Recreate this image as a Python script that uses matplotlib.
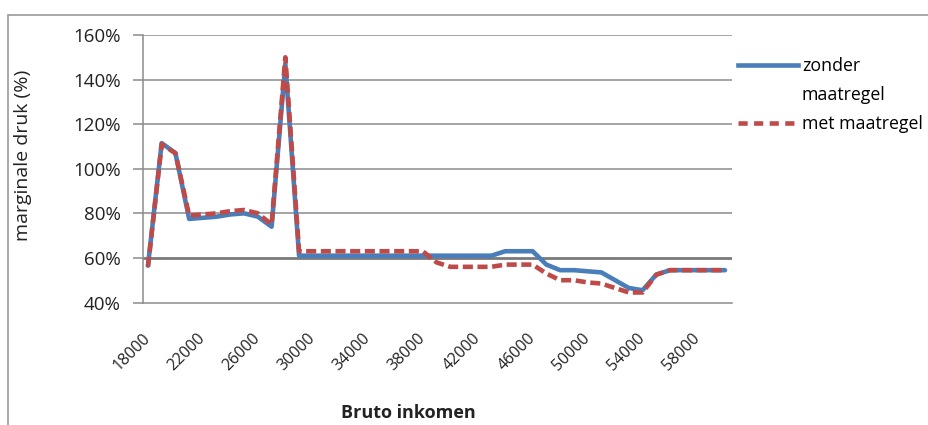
import numpy as np
import matplotlib
matplotlib.use("Agg")
import matplotlib.pyplot as plt
from matplotlib.lines import Line2D
from matplotlib.patches import Rectangle
from matplotlib.ticker import FuncFormatter

plt.rcParams["font.family"] = ["Open Sans", "DejaVu Sans"]

# Bruto inkomen (categories)
inkomen = [18000, 19000, 20000, 21000, 22000, 23000, 24000, 25000, 26000, 27000,
           28000, 29000, 30000, 31000, 32000, 33000, 34000, 35000, 36000, 37000,
           38000, 39000, 40000, 41000, 42000, 43000, 44000, 45000, 46000, 47000,
           48000, 49000, 50000, 51000, 52000, 53000, 54000, 55000, 56000, 57000,
           58000, 59000, 60000]

# marginale druk in %
zonder = [56.5, 111.5, 107, 77.5, 78, 78.5, 79.5, 80, 78.5, 74,
          147, 61, 61, 61, 61, 61, 61, 61, 61, 61,
          61, 61, 61, 61, 61, 61, 63, 63, 63, 57,
          54.5, 54.5, 54, 53.5, 50, 46.5, 45.5, 52.5, 54.5, 54.5,
          54.5, 54.5, 54.5]
met = [56, 111, 107, 79, 79.5, 80, 81, 81.5, 80, 75,
       150, 63, 63, 63, 63, 63, 63, 63, 63, 63,
       63, 58, 56, 56, 56, 56, 57, 57, 57, 53,
       50, 50, 49, 48.5, 46.5, 44.5, 44.5, 52.5, 54.5, 54.5,
       54.5, 54.5, 54.5]

x_ticks = [18000, 22000, 26000, 30000, 34000, 38000, 42000, 46000, 50000, 54000, 58000]
y_ticks = [40, 60, 80, 100, 120, 140, 160]

BLUE = "#4A7EBB"
RED = "#BE4B48"

W, H = 929, 425
fig = plt.figure(figsize=(W / 100, H / 100), dpi=100)
ax = fig.add_axes([143 / W, 1 - 302.5 / H, (732 - 143) / W, (302.5 - 35) / H])

# outer chart border
fig.add_artist(Rectangle((8 / W, -0.2), 1.2, 1.2 - 15 / H, transform=fig.transFigure,
                         fill=False, edgecolor="#9a9a9a", linewidth=1.2))

for y in y_ticks[1:]:
    lw = 2.0 if y == 60 else 1.1
    col = "#7a7a7a" if y == 60 else "#8c8c8c"
    ax.axhline(y, color=col, linewidth=lw, zorder=1)

ax.plot(inkomen, zonder, color=BLUE, linewidth=3.3, solid_joinstyle="round",
        solid_capstyle="round", zorder=3)
ax.plot(inkomen, met, color=RED, linewidth=3.3, dashes=(2.2, 1.0),
        dash_capstyle="butt", zorder=4)

ax.set_xlim(17640, 60510)
ax.set_ylim(40, 160)
ax.set_yticks(y_ticks)
ax.yaxis.set_major_formatter(FuncFormatter(lambda v, p: f"{int(v)}%"))
ax.set_xticks(x_ticks)
ax.set_xticklabels([str(t) for t in x_ticks], rotation=45, ha="right", va="center",
                   rotation_mode="anchor", fontsize=11.5, color="#222222")
ax.tick_params(axis="x", length=0, pad=24)
ax.tick_params(axis="y", length=7, width=1.1, color="#8c8c8c", pad=9,
               labelsize=13.5, labelcolor="#222222")

for s in ["top", "right"]:
    ax.spines[s].set_visible(False)
for s in ["left", "bottom"]:
    ax.spines[s].set_color("#8c8c8c")
    ax.spines[s].set_linewidth(1.1)

ax.set_xlabel("Bruto inkomen", fontsize=13, fontweight="bold", color="#222222")
ax.xaxis.set_label_coords((408 - 143) / 589, (302.5 - 404) / 267.5)
ax.set_ylabel("marginale druk (%)", fontsize=14, color="#222222")
ax.yaxis.set_label_coords((32 - 143) / 589, (302.5 - 155) / 267.5)

handles = [Line2D([], [], color=BLUE, linewidth=3.3),
           Line2D([], [], color="none"),
           Line2D([], [], color=RED, linewidth=3.3, dashes=(2.0, 1.4))]
labels = ["zonder", "maatregel", "met maatregel"]
ax.legend(handles, labels, loc="upper left", bbox_to_anchor=(738 / W, 1 - 57 / H),
          bbox_transform=fig.transFigure, frameon=False, fontsize=12.8,
          handlelength=3.4, handletextpad=0.2, labelspacing=0.62,
          borderpad=0, borderaxespad=0)

fig.savefig("out.png", dpi=100, facecolor="white")
